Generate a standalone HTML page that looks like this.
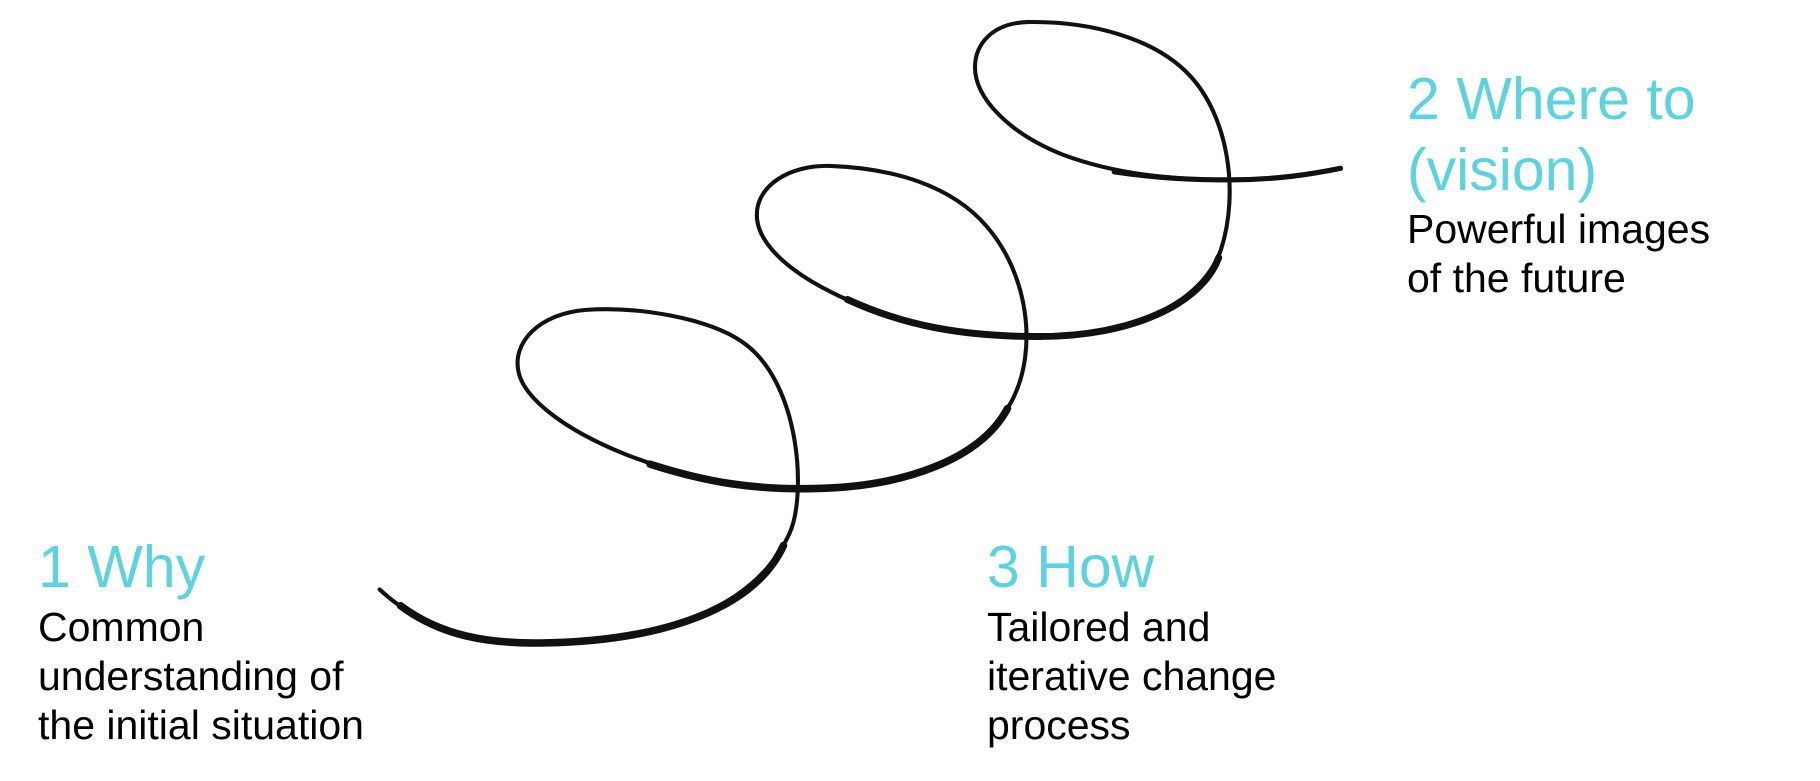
<!DOCTYPE html>
<html><head><meta charset="utf-8"><style>
html,body{margin:0;padding:0;background:#fff;}
body{width:1820px;height:781px;position:relative;overflow:hidden;font-family:"Liberation Sans",Arial,sans-serif;}
.t{position:absolute;color:#5dd3dd;font-size:59px;line-height:71px;white-space:nowrap;}
.b{position:absolute;color:#000;font-size:41px;line-height:49px;white-space:nowrap;}
svg{position:absolute;left:0;top:0;}
</style></head><body>
<svg width="1820" height="781" viewBox="0 0 1568 673">
<g fill="none" stroke="#111" stroke-linecap="round">
<path stroke-width="3.5" d="M327,508 C370,548 420,555 470,554 C570,552 650,525 680,460 C695,428 690,330 640,295 C610,274 550,264 505,267 C465,270 440,295 447,322 C452,341 480,368 540,392 C600,415 650,422 700,421 C780,420 845,395 872,345 C895,300 885,235 850,195 C820,160 770,145 715,143 C680,142 652,160 652,185 C652,205 670,225 700,243 C760,278 830,290 895,290 C975,290 1035,262 1052,215 C1068,165 1058,100 1025,65 C995,33 940,18 885,19 C855,20 840,38 840,58 C840,85 870,115 915,133 C960,150 1010,155 1060,155 C1100,155 1130,150 1155,145"/>
<path stroke-width="6.5" d="M345,522 C380,548 420,555 470,554 C570,552 650,525 675,470"/>
<path stroke-width="6.5" d="M560,400 C610,416 650,422 700,421 C780,420 845,395 868,352"/>
<path stroke-width="6" d="M730,258 C780,281 830,290 895,290 C975,290 1035,262 1050,222"/>
<path stroke-width="4.5" d="M960,148 C1000,154 1030,155 1060,155 C1100,155 1130,150 1155,145"/>
</g>
</svg>
<div class="t" style="left:38px;top:532px;">1 Why</div>
<div class="b" style="left:38px;top:603px;">Common<br>understanding of<br>the initial situation</div>
<div class="t" style="left:987px;top:532px;">3 How</div>
<div class="b" style="left:987px;top:603px;">Tailored and<br>iterative change<br>process</div>
<div class="t" style="left:1407px;top:64px;">2 Where to<br>(vision)</div>
<div class="b" style="left:1407px;top:205px;">Powerful images<br>of the future</div>
</body></html>
